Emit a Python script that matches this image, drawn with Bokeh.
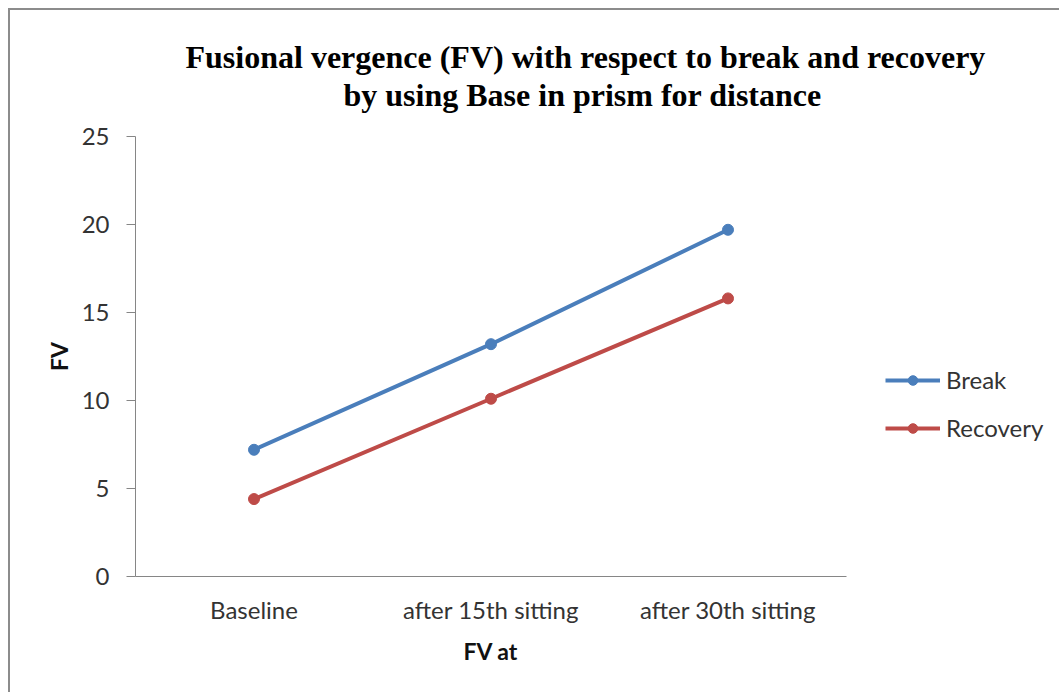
from bokeh.plotting import figure
from bokeh.models import Range1d, Legend, LegendItem, Title, FixedTicker
from bokeh.embed import file_html
from bokeh.resources import INLINE

categories = ["Baseline", "after 15th sitting", "after 30th sitting"]
break_vals = [7.2, 13.2, 19.7]
recovery_vals = [4.4, 10.1, 15.8]
y_ticks = [0, 5, 10, 15, 20, 25]
title_lines = ["Fusional vergence (FV) with respect to break and recovery",
               "by using Base in prism for distance"]
x_title = "FV at"
y_title = "FV"

xpos = list(range(len(categories)))

W, H = 1051, 684
# frame spans to the right edge so the legend (drawn inside the frame) is not clipped;
# the x axis itself is bounded to the category band
x_end = len(categories) - 0.5 + 215 / 237
p = figure(width=W, height=H, x_range=Range1d(-0.5, x_end), y_range=Range1d(0, 25),
           output_backend="svg", toolbar_location=None, title=None,
           min_border_left=125, min_border_right=0, min_border_top=126, min_border_bottom=118,
           styles={"margin-left": "8px", "margin-top": "8px",
                   "border-left": "2px solid #8c8c8c", "border-top": "2px solid #8c8c8c"})
p.outline_line_color = None
p.xgrid.grid_line_color = None
p.ygrid.grid_line_color = None
p.background_fill_color = "white"
p.border_fill_color = "white"

font = "Lato"
tick_color = "#333333"
fs = "24px"

p.yaxis.ticker = FixedTicker(ticks=y_ticks)
p.yaxis.minor_tick_line_color = None
p.yaxis.major_tick_out = 9
p.yaxis.major_tick_in = 0
p.yaxis.axis_line_color = "#868686"
p.yaxis.major_tick_line_color = "#868686"
p.yaxis.major_label_text_font = font
p.yaxis.major_label_text_font_size = fs
p.yaxis.major_label_text_color = tick_color
p.yaxis.major_label_standoff = 17
p.yaxis.axis_label = y_title
p.yaxis.axis_label_text_font = font
p.yaxis.axis_label_text_font_style = "bold"
p.yaxis.axis_label_text_font_size = "23px"
p.yaxis.axis_label_text_color = "#111111"
p.yaxis.axis_label_standoff = 6

p.xaxis.ticker = FixedTicker(ticks=xpos)
p.xaxis.major_label_overrides = {i: c for i, c in zip(xpos, categories)}
p.xaxis.bounds = (-0.5, len(categories) - 0.5)
p.xaxis.minor_tick_line_color = None
p.xaxis.major_tick_line_color = None
p.xaxis.major_tick_out = 0
p.xaxis.major_tick_in = 0
p.xaxis.axis_line_color = "#868686"
p.xaxis.major_label_text_font = font
p.xaxis.major_label_text_font_size = fs
p.xaxis.major_label_text_color = tick_color
p.xaxis.major_label_standoff = 18

# x-axis title centred under the category band (not the whole frame)
p.add_layout(Title(text=x_title, align="left", offset=328, standoff=20, vertical_align="top",
                   text_font=font, text_font_style="bold", text_font_size="23px",
                   text_color="#111111"), "below")

blue = "#4A7EBB"
red = "#BE4B48"
l1 = p.line(xpos, break_vals, line_color=blue, line_width=4)
s1 = p.scatter(xpos, break_vals, marker="circle", size=11, fill_color=blue, line_color=blue)
l2 = p.line(xpos, recovery_vals, line_color=red, line_width=4)
s2 = p.scatter(xpos, recovery_vals, marker="circle", size=11, fill_color=red, line_color=red)

legend = Legend(items=[LegendItem(label="Break", renderers=[l1, s1]),
                       LegendItem(label="Recovery", renderers=[l2, s2])],
                location=(750, 134), padding=0, margin=0, spacing=19,
                glyph_width=55, glyph_height=24, label_height=24, label_standoff=6,
                label_text_font=font, label_text_font_size=fs, label_text_color=tick_color,
                border_line_color=None, background_fill_alpha=0)
p.add_layout(legend, "center")

title_style = dict(text_font="Liberation Serif", text_font_style="bold",
                   text_font_size="32px", text_color="#000000")
# spacer between frame and title
p.add_layout(Title(text=" ", text_font_size="1px", standoff=21), "above")
p.add_layout(Title(text=title_lines[1], align="left", offset=208, standoff=0, **title_style), "above")
p.add_layout(Title(text=title_lines[0], align="left", offset=50, standoff=0, **title_style), "above")

open("out.html", "w").write(file_html(p, INLINE))
